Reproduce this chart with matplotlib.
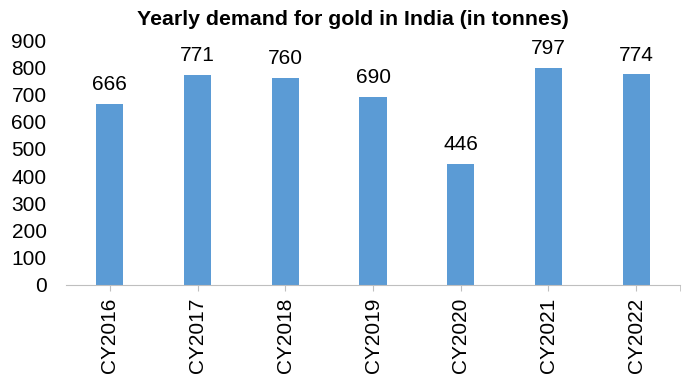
import matplotlib.pyplot as plt

# yearly demand for gold in India, tonnes
years = ["CY2016", "CY2017", "CY2018", "CY2019", "CY2020", "CY2021", "CY2022"]
demand = [666, 771, 760, 690, 446, 797, 774]

plt.rcParams["font.family"] = ["Liberation Sans", "DejaVu Sans"]

fig = plt.figure(figsize=(6.85, 3.74), dpi=100)
ax = fig.add_axes([0.0964, 0.238, 0.8963, 0.655])

x = list(range(len(years)))
bars = ax.bar(x, demand, width=0.31, color="#5B9BD5")

for b, v in zip(bars, demand):
    ax.annotate(str(v), (b.get_x() + b.get_width() / 2, v), xytext=(0, 7),
                textcoords="offset points", ha="center", va="bottom", fontsize=15)

ax.set_xlim(-0.5, len(years) - 0.5)
ax.set_ylim(0, 900)
ax.set_yticks(range(0, 901, 100))
ax.set_xticks(x)
ax.set_xticklabels(years, rotation=90)
ax.set_xticks([len(years) - 0.5], minor=True)

for s in ["top", "right", "left"]:
    ax.spines[s].set_visible(False)
ax.spines["bottom"].set_color("#BFBFBF")
ax.tick_params(axis="y", length=0, labelsize=15, pad=14)
ax.tick_params(axis="x", which="both", length=4, color="#BFBFBF", labelsize=15, pad=5)

fig.text(0.515, 0.948, "Yearly demand for gold in India (in tonnes)",
         ha="center", va="center", fontsize=15.3, fontweight="bold")

fig.savefig("out.png", dpi=100)
